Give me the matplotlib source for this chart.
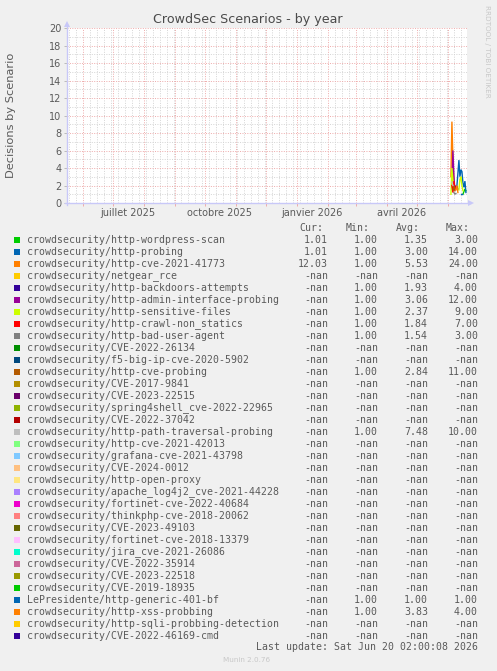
import numpy as np
import matplotlib.pyplot as plt
import matplotlib as mpl
import matplotlib.dates as mdates
from matplotlib.patches import Rectangle, Polygon
from matplotlib.lines import Line2D

mpl.rcParams['font.family'] = 'DejaVu Sans'

W, H = 497, 671

# chart content
title = "CrowdSec Scenarios - by year"
ylabel = "Decisions by Scenario"
x_start = np.datetime64('2025-05-16T02:00')
x_end = np.datetime64('2026-06-20T02:00')
month_labels = ["juillet 2025", "octobre 2025", "janvier 2026", "avril 2026"]
month_label_dates = np.array(['2025-07-16', '2025-10-16', '2026-01-16', '2026-04-16'], dtype='datetime64[D]')

names = [
    "crowdsecurity/http-wordpress-scan", "crowdsecurity/http-probing",
    "crowdsecurity/http-cve-2021-41773", "crowdsecurity/netgear_rce",
    "crowdsecurity/http-backdoors-attempts", "crowdsecurity/http-admin-interface-probing",
    "crowdsecurity/http-sensitive-files", "crowdsecurity/http-crawl-non_statics",
    "crowdsecurity/http-bad-user-agent", "crowdsecurity/CVE-2022-26134",
    "crowdsecurity/f5-big-ip-cve-2020-5902", "crowdsecurity/http-cve-probing",
    "crowdsecurity/CVE-2017-9841", "crowdsecurity/CVE-2023-22515",
    "crowdsecurity/spring4shell_cve-2022-22965", "crowdsecurity/CVE-2022-37042",
    "crowdsecurity/http-path-traversal-probing", "crowdsecurity/http-cve-2021-42013",
    "crowdsecurity/grafana-cve-2021-43798", "crowdsecurity/CVE-2024-0012",
    "crowdsecurity/http-open-proxy", "crowdsecurity/apache_log4j2_cve-2021-44228",
    "crowdsecurity/fortinet-cve-2022-40684", "crowdsecurity/thinkphp-cve-2018-20062",
    "crowdsecurity/CVE-2023-49103", "crowdsecurity/fortinet-cve-2018-13379",
    "crowdsecurity/jira_cve-2021-26086", "crowdsecurity/CVE-2022-35914",
    "crowdsecurity/CVE-2023-22518", "crowdsecurity/CVE-2019-18935",
    "LePresidente/http-generic-401-bf", "crowdsecurity/http-xss-probbing",
    "crowdsecurity/http-sqli-probbing-detection", "crowdsecurity/CVE-2022-46169-cmd",
]
colors = [
    "#00CC00", "#0066B3", "#FF8000", "#FFCC00", "#330099", "#990099", "#CCFF00",
    "#FF0000", "#808080", "#008F00", "#00487D", "#B35A00", "#B38F00", "#6B006B",
    "#8FB300", "#B30000", "#BEBEBE", "#80FF80", "#80C9FF", "#FFC080", "#FFE680",
    "#AA80FF", "#EE00CC", "#FF8080", "#666600", "#FFBFFF", "#00FFCC", "#CC6699",
    "#999900", "#00CC00", "#0066B3", "#FF8000", "#FFCC00", "#330099",
]
cur = ["1.01", "1.01", "12.03"] + ["-nan"] * 31
mins = ["1.00", "1.00", "1.00", "-nan", "1.00", "1.00", "1.00", "1.00", "1.00",
        "-nan", "-nan", "1.00", "-nan", "-nan", "-nan", "-nan", "1.00", "-nan",
        "-nan", "-nan", "-nan", "-nan", "-nan", "-nan", "-nan", "-nan", "-nan",
        "-nan", "-nan", "-nan", "1.00", "1.00", "-nan", "-nan"]
avgs = ["1.35", "3.00", "5.53", "-nan", "1.93", "3.06", "2.37", "1.84", "1.54",
        "-nan", "-nan", "2.84", "-nan", "-nan", "-nan", "-nan", "7.48", "-nan",
        "-nan", "-nan", "-nan", "-nan", "-nan", "-nan", "-nan", "-nan", "-nan",
        "-nan", "-nan", "-nan", "1.00", "3.83", "-nan", "-nan"]
maxs = ["3.00", "14.00", "24.00", "-nan", "4.00", "12.00", "9.00", "7.00", "3.00",
        "-nan", "-nan", "11.00", "-nan", "-nan", "-nan", "-nan", "10.00", "-nan",
        "-nan", "-nan", "-nan", "-nan", "-nan", "-nan", "-nan", "-nan", "-nan",
        "-nan", "-nan", "-nan", "1.00", "4.00", "-nan", "-nan"]

# daily averages, 2026-06-04 .. 2026-06-19 (nan = no data)
days = np.arange(np.datetime64('2026-06-04'), np.datetime64('2026-06-20'), dtype='datetime64[D]')
nan = np.nan
series = {
    "crowdsecurity/http-wordpress-scan":
        [nan, nan, nan, nan, nan, nan, nan, nan, nan, nan, nan, nan, 1.0, 1.3, 1.6, 1.4],
    "crowdsecurity/http-probing":
        [nan, nan, nan, nan, nan, nan, 2.0, 3.4, 4.9, 3.0, 3.8, 3.6, 2.3, 1.8, 2.5, 1.2],
    "crowdsecurity/http-cve-2021-41773":
        [3.0, 9.3, 5.0, 2.2, 1.6, nan, nan, nan, nan, nan, nan, nan, nan, nan, nan, nan],
    "crowdsecurity/http-backdoors-attempts":
        [nan, nan, 1.5, 1.8, 2.0, 1.7, 1.9, 1.6, nan, nan, nan, nan, nan, nan, nan, nan],
    "crowdsecurity/http-admin-interface-probing":
        [nan, 2.0, 6.0, 3.0, 1.5, nan, nan, nan, nan, nan, nan, nan, nan, nan, nan, nan],
    "crowdsecurity/http-sensitive-files":
        [1.0, 4.0, 2.5, 1.8, nan, nan, nan, nan, 1.5, 2.7, 3.0, 2.0, 1.4, nan, nan, nan],
    "crowdsecurity/http-crawl-non_statics":
        [nan, 2.0, 1.2, 2.5, 1.6, 1.8, nan, nan, nan, nan, nan, nan, nan, nan, nan, nan],
    "crowdsecurity/http-bad-user-agent":
        [nan, nan, nan, 1.2, 1.0, 1.1, nan, nan, nan, nan, nan, nan, nan, nan, nan, nan],
    "crowdsecurity/http-cve-probing":
        [nan, nan, 1.5, 2.0, 1.4, nan, nan, nan, nan, nan, nan, nan, nan, nan, nan, nan],
    "crowdsecurity/http-path-traversal-probing":
        [nan, 2.4, 2.0, nan, nan, nan, nan, nan, nan, nan, nan, nan, nan, nan, nan, nan],
    "LePresidente/http-generic-401-bf":
        [nan, nan, nan, nan, nan, nan, nan, nan, nan, nan, 1.0, 1.0, nan, nan, nan, nan],
    "crowdsecurity/http-xss-probbing":
        [nan, nan, nan, nan, nan, 1.5, 2.0, 1.2, nan, nan, nan, nan, nan, nan, nan, nan],
}

bg = '#F0F0F0'
txt = '#5a5a5a'


def fx(px):
    return px / W


def fy(py):
    return 1 - py / H


fig = plt.figure(figsize=(W / 100, H / 100), dpi=100, facecolor=bg)
left, right, top, bottom = 67, 467, 28, 203
ax = fig.add_axes([fx(left), fy(bottom), fx(right - left), (bottom - top) / H])
ax.set_facecolor('white')

for name, col in zip(names, colors):
    if name in series:
        ax.plot(days, series[name], color=col, lw=1.0, solid_joinstyle='miter')

ax.set_xlim(x_start, x_end)
ax.set_ylim(0, 20)

# grid
ax.xaxis.set_major_locator(mdates.MonthLocator())
ax.xaxis.set_minor_locator(mdates.WeekdayLocator(byweekday=mdates.SU))
ax.yaxis.set_major_locator(mpl.ticker.MultipleLocator(2))
ax.yaxis.set_minor_locator(mpl.ticker.MultipleLocator(1))
ax.grid(which='minor', color='#d4d4d4', lw=0.7, ls=(0, (1, 1.5)))
ax.grid(which='major', color='#eeaaaa', lw=0.7, ls=(0, (1, 1.5)))
ax.set_axisbelow(True)
ax.set_xticklabels([])
ax.tick_params(axis='x', which='major', length=2, color='#eeaaaa', width=0.7)
ax.tick_params(axis='x', which='minor', length=0)
ax.tick_params(axis='y', which='major', length=2, color='#bbbbbb', width=0.7,
               labelsize=7, labelcolor=txt, pad=2)
ax.tick_params(axis='y', which='minor', length=0)
for s in ax.spines.values():
    s.set_visible(False)

for d, lab in zip(month_label_dates, month_labels):
    ax.text(d, -0.03, lab, transform=ax.get_xaxis_transform(), ha='center',
            va='top', fontsize=7, color=txt)

# axes with arrows
acol = '#c8c8f8'
fig.add_artist(Line2D([fx(left), fx(left)], [fy(bottom + 2), fy(top - 3)], color=acol, lw=1))
fig.add_artist(Line2D([fx(left - 2), fx(right + 3)], [fy(bottom), fy(bottom)], color=acol, lw=1))
fig.add_artist(Polygon([[fx(left - 3), fy(top - 1)], [fx(left + 3), fy(top - 1)], [fx(left), fy(top - 7)]],
                       closed=True, color=acol, lw=0))
fig.add_artist(Polygon([[fx(right + 1), fy(bottom - 3)], [fx(right + 1), fy(bottom + 3)], [fx(right + 7), fy(bottom)]],
                       closed=True, color=acol, lw=0))

fig.text(fx(248), fy(19), title, ha='center', va='center', fontsize=9.1, color='#4a4a4a')
fig.text(fx(11), fy(115), ylabel, ha='center', va='center', rotation=90, fontsize=8.2, color=txt)
fig.text(fx(487), fy(5), "RRDTOOL / TOBI OETIKER", ha='center', va='top', rotation=270,
         fontsize=5.2, color='#c8c8c8')

# legend
mono = 'DejaVu Sans Mono'
fs = 7.1
y0 = 240
for hx, h in zip([299, 346, 396, 446], ["Cur:", "Min:", "Avg:", "Max:"]):
    fig.text(fx(hx), fy(y0 - 12), h, ha='left', va='center', family=mono, fontsize=fs, color=txt)
for i, (name, col) in enumerate(zip(names, colors)):
    yy = y0 + 12 * i
    fig.add_artist(Rectangle((fx(14), fy(yy + 3)), 6 / W, 6 / H, color=col, lw=0))
    fig.text(fx(27), fy(yy), name, ha='left', va='center', family=mono, fontsize=fs, color=txt)
    for cx, v in zip([328, 378, 428, 478], [cur[i], mins[i], avgs[i], maxs[i]]):
        fig.text(fx(cx), fy(yy), v, ha='right', va='center', family=mono, fontsize=fs, color=txt)

fig.text(fx(478), fy(647), "Last update: Sat Jun 20 02:00:08 2026", ha='right', va='center',
         family=mono, fontsize=fs, color=txt)
fig.text(fx(223), fy(660), "Munin 2.0.76", ha='left', va='center', fontsize=5.2, color='#c8c8c8')

fig.savefig('out.png', dpi=100, facecolor=bg)
